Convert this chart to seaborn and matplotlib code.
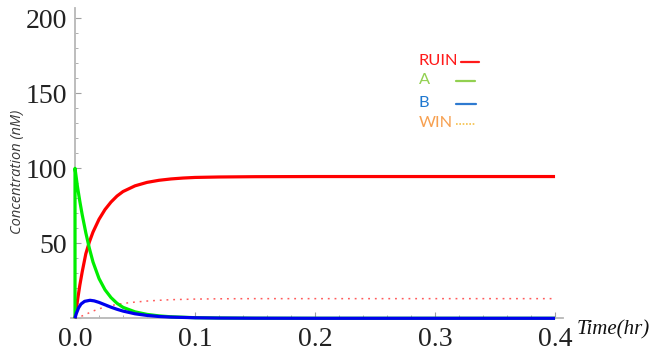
import matplotlib
matplotlib.use("Agg")
import matplotlib.pyplot as plt
from matplotlib.ticker import MultipleLocator, FuncFormatter
import numpy as np
import pandas as pd
import seaborn as sns

# Time points (hr) and concentrations (nM) for each species
t_ruin = [0.0, 0.002, 0.004, 0.006, 0.009, 0.012, 0.015, 0.02, 0.025, 0.03, 0.035,
          0.04, 0.05, 0.06, 0.07, 0.08, 0.09, 0.1, 0.12, 0.15, 0.2, 0.3, 0.4]
c_ruin = [0.0, 11.5, 22.0, 31.0, 43.0, 51.0, 57.5, 66.0, 72.5, 77.5, 81.5,
          84.5, 88.3, 90.6, 92.0, 92.9, 93.5, 93.9, 94.2, 94.4, 94.5, 94.5, 94.5]

t_a = [0.0, 0.0, 0.002, 0.004, 0.006, 0.009, 0.012, 0.015, 0.02, 0.025, 0.03, 0.035,
       0.04, 0.05, 0.06, 0.07, 0.08, 0.1, 0.12, 0.15, 0.2, 0.3, 0.4]
c_a = [0.0, 100.0, 88.0, 78.0, 69.0, 57.0, 46.5, 37.5, 26.5, 19.0, 13.8, 10.0,
       7.3, 4.3, 2.6, 1.6, 1.0, 0.4, 0.2, 0.05, 0.0, 0.0, 0.0]

t_b = [0.0, 0.001, 0.003, 0.005, 0.008, 0.0125, 0.016, 0.02, 0.025, 0.03, 0.035,
       0.04, 0.05, 0.06, 0.07, 0.08, 0.1, 0.12, 0.15, 0.2, 0.3, 0.4]
c_b = [0.0, 3.0, 7.0, 9.5, 11.3, 12.0, 11.6, 10.6, 9.0, 7.4, 6.0,
       4.8, 3.0, 1.9, 1.2, 0.8, 0.35, 0.15, 0.05, 0.0, 0.0, 0.0]

t_win = [0.0, 0.003, 0.006, 0.01, 0.015, 0.02, 0.025, 0.03, 0.04, 0.05, 0.06,
         0.07, 0.08, 0.1, 0.12, 0.15, 0.2, 0.3, 0.4]
c_win = [0.0, 0.6, 1.6, 3.0, 4.8, 6.3, 7.5, 8.5, 9.9, 10.8, 11.5,
         12.0, 12.4, 12.8, 13.0, 13.1, 13.1, 13.1, 13.1]

legend_labels = ["RUIN", "A", "B", "WIN"]

series = [
    ("RUIN", t_ruin, c_ruin),
    ("A", t_a, c_a),
    ("B", t_b, c_b),
    ("WIN", t_win, c_win),
]
df = pd.concat(
    [pd.DataFrame({"species": name, "time": t, "conc": c, "order": range(len(t))})
     for name, t, c in series],
    ignore_index=True,
)

sns.set_theme(style="white")
plt.rcParams["font.family"] = ["Open Sans", "DejaVu Sans"]

fig = plt.figure(figsize=(6.6, 3.51), dpi=100)
ax = fig.add_axes([0.1082, 0.0932, 0.7455, 0.8846])

line_styles = {
    "RUIN": dict(color="#ff0000", lw=2.3, ls="-", z=3),
    "A": dict(color="#00ee00", lw=2.3, ls="-", z=4),
    "B": dict(color="#0000ee", lw=2.3, ls="-", z=5),
    "WIN": dict(color="#ff5a5a", lw=1.1, ls=(0, (1.2, 3.2)), z=2),
}
for name in ["WIN", "RUIN", "A", "B"]:
    sub = df[df["species"] == name]
    st = line_styles[name]
    sns.lineplot(data=sub, x="time", y="conc", estimator=None, sort=False,
                 color=st["color"], linewidth=st["lw"], linestyle=st["ls"],
                 ax=ax, legend=False, zorder=st["z"])
for ln in ax.get_lines():
    ln.set_clip_on(False)
    ln.set_solid_capstyle("butt")

ax.set_xlim(-0.003, 0.407)
ax.set_ylim(0, 207)

for side in ["top", "right"]:
    ax.spines[side].set_visible(False)
ax.spines["left"].set_position(("data", 0))
for side in ["left", "bottom"]:
    ax.spines[side].set_color("#b8b8b8")
    ax.spines[side].set_linewidth(1.3)
    ax.spines[side].set_zorder(1)

ax.xaxis.set_major_locator(MultipleLocator(0.1))
ax.xaxis.set_minor_locator(MultipleLocator(0.02))
ax.yaxis.set_major_locator(MultipleLocator(50))
ax.yaxis.set_minor_locator(MultipleLocator(10))
ax.xaxis.set_major_formatter(FuncFormatter(lambda v, p: f"{v:.1f}"))
ax.yaxis.set_major_formatter(FuncFormatter(lambda v, p: "" if abs(v) < 1e-9 else f"{v:.0f}"))

ax.tick_params(axis="both", which="major", direction="in", length=4.5, width=0.8,
               color="#a0a0a0", labelsize=20, labelcolor="#222222", pad=6)
ax.tick_params(axis="both", which="minor", direction="in", length=2.5, width=0.7,
               color="#b0b0b0")
ax.tick_params(axis="x", which="both", bottom=True)
ax.tick_params(axis="y", which="both", left=True)
for lab in ax.get_xticklabels() + ax.get_yticklabels():
    lab.set_fontfamily("Liberation Serif")

ax.set_xlabel("")
ax.set_ylabel("")
fig.text(18 / 660, 1 - 172 / 351, "Concentration (nM)", rotation=90, ha="center",
         va="center", fontsize=10.5, style="italic", color="#3a3a3a",
         family=["Open Sans", "DejaVu Sans"])
fig.text(577 / 660, 1 - 330 / 351, "Time(hr)", ha="left", va="center",
         fontsize=15, style="italic", color="#111111", family="Liberation Serif")

# Key: coloured names with short line samples
key_text_colors = ["#ff1a1a", "#92d050", "#1f78d0", "#f7a050"]
key_line = [
    dict(color="#ff1a1a", lw=1.6, ls="-", x0=461, x1=479),
    dict(color="#92d050", lw=1.6, ls="-", x0=456, x1=475),
    dict(color="#2e7ad0", lw=1.6, ls="-", x0=456, x1=476),
    dict(color="#f5c048", lw=1.2, ls=(0, (1, 1)), x0=456, x1=475),
]
key_y = [61, 80, 103, 123]
for lab, tc, kl, y in zip(legend_labels, key_text_colors, key_line, key_y):
    fig.text(419 / 660, 1 - y / 351, lab, ha="left", va="center", fontsize=11.8,
             color=tc, family=["Lato", "DejaVu Sans"])
    fig.add_artist(plt.Line2D([kl["x0"] / 660, kl["x1"] / 660],
                              [1 - (y + 0.5) / 351, 1 - (y + 0.5) / 351],
                              color=kl["color"], lw=kl["lw"], ls=kl["ls"],
                              transform=fig.transFigure))

fig.savefig("out.png", dpi=100)
